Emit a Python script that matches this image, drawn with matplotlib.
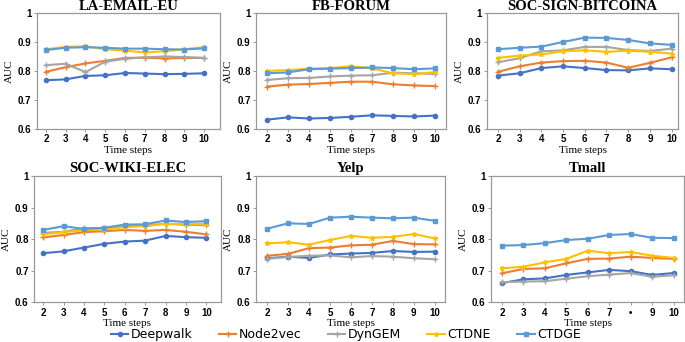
import numpy as np
import matplotlib.pyplot as plt
from matplotlib.lines import Line2D

# ==============================
# data
# ==============================
steps = [2, 3, 4, 5, 6, 7, 8, 9, 10]
methods = ["Deepwalk", "Node2vec", "DynGEM", "CTDNE", "CTDGE"]
titles = ["LA-EMAIL-EU", "FB-FORUM", "SOC-SIGN-BITCOINA",
          "SOC-WIKI-ELEC", "Yelp", "Tmall"]

la_email = [
    [0.768, 0.771, 0.783, 0.785, 0.793, 0.791, 0.789, 0.790, 0.792],
    [0.797, 0.813, 0.826, 0.835, 0.845, 0.846, 0.843, 0.845, 0.845],
    [0.820, 0.825, 0.796, 0.832, 0.842, 0.847, 0.850, 0.848, 0.845],
    [0.875, 0.883, 0.885, 0.875, 0.870, 0.864, 0.868, 0.875, 0.882],
    [0.872, 0.880, 0.882, 0.880, 0.877, 0.877, 0.875, 0.874, 0.878],
]
fb_forum = [
    [0.632, 0.640, 0.636, 0.638, 0.642, 0.647, 0.645, 0.643, 0.646],
    [0.746, 0.753, 0.755, 0.759, 0.763, 0.763, 0.754, 0.750, 0.748],
    [0.769, 0.775, 0.776, 0.781, 0.784, 0.785, 0.794, 0.792, 0.790],
    [0.800, 0.803, 0.808, 0.810, 0.816, 0.809, 0.792, 0.789, 0.796],
    [0.792, 0.795, 0.806, 0.808, 0.810, 0.812, 0.810, 0.806, 0.809],
]
bitcoin = [
    [0.784, 0.792, 0.810, 0.816, 0.810, 0.803, 0.802, 0.809, 0.806],
    [0.797, 0.816, 0.829, 0.834, 0.835, 0.829, 0.811, 0.828, 0.847],
    [0.830, 0.844, 0.868, 0.871, 0.883, 0.883, 0.872, 0.869, 0.877],
    [0.845, 0.853, 0.857, 0.868, 0.871, 0.866, 0.870, 0.866, 0.860],
    [0.875, 0.880, 0.884, 0.900, 0.915, 0.914, 0.907, 0.895, 0.890],
]
wiki_elec = [
    [0.755, 0.761, 0.773, 0.785, 0.792, 0.795, 0.810, 0.806, 0.804],
    [0.805, 0.813, 0.822, 0.825, 0.829, 0.826, 0.829, 0.823, 0.815],
    [0.820, 0.823, 0.835, 0.835, 0.841, 0.842, 0.849, 0.845, 0.844],
    [0.815, 0.822, 0.828, 0.830, 0.838, 0.841, 0.849, 0.847, 0.849],
    [0.829, 0.841, 0.832, 0.836, 0.846, 0.847, 0.859, 0.854, 0.857],
]
yelp = [
    [0.739, 0.744, 0.740, 0.751, 0.754, 0.756, 0.762, 0.759, 0.760],
    [0.747, 0.753, 0.771, 0.773, 0.780, 0.782, 0.794, 0.784, 0.783],
    [0.737, 0.743, 0.747, 0.748, 0.742, 0.746, 0.744, 0.739, 0.736],
    [0.786, 0.790, 0.782, 0.797, 0.810, 0.804, 0.807, 0.816, 0.802],
    [0.833, 0.850, 0.848, 0.868, 0.871, 0.868, 0.866, 0.868, 0.858],
]
tmall = [
    [0.660, 0.672, 0.675, 0.686, 0.694, 0.702, 0.698, 0.686, 0.692],
    [0.691, 0.705, 0.707, 0.723, 0.737, 0.738, 0.744, 0.740, 0.737],
    [0.663, 0.665, 0.666, 0.674, 0.682, 0.687, 0.692, 0.680, 0.685],
    [0.707, 0.712, 0.726, 0.737, 0.763, 0.755, 0.759, 0.747, 0.740],
    [0.779, 0.781, 0.787, 0.797, 0.801, 0.813, 0.816, 0.804, 0.803],
]
datasets = [la_email, fb_forum, bitcoin, wiki_elec, yelp, tmall]

yticks = [0.6, 0.7, 0.8, 0.9, 1.0]
ytick_labels = ["0.6", "0.7", "0.8", "0.9", "1"]
tmall_xlabels = ["2", "3", "4", "5", "6", "7", "•", "9", "10"]

# ==============================
# style
# ==============================
colors = ["#4472C4", "#ED7D31", "#A5A5A5", "#FFC000", "#5B9BD5"]
markers = ["o", "+", "+", "*", "s"]
msizes = [3, 4, 4, 3.5, 3.5]

# axes boxes in figure fraction [left, bottom, width, height]
boxes = [
    [0.054, 0.623, 0.267, 0.339],
    [0.374, 0.623, 0.277, 0.339],
    [0.711, 0.623, 0.279, 0.339],
    [0.050, 0.117, 0.272, 0.368],
    [0.374, 0.117, 0.276, 0.368],
    [0.717, 0.117, 0.282, 0.368],
]
xlims = [(1.55, 10.8), (1.48, 10.52), (1.5, 10.3),
         (1.56, 10.7), (1.48, 10.5), (1.5, 10.5)]

serif = "Liberation Serif"
sans = "Liberation Sans"

fig = plt.figure(figsize=(6.85, 3.42), dpi=100)

for i, data in enumerate(datasets):
    ax = fig.add_axes(boxes[i])
    for k in range(len(methods)):
        ax.plot(steps, data[k], color=colors[k], marker=markers[k],
                markersize=msizes[k], linewidth=1.5, markeredgewidth=1.0)
    ax.set_xlim(*xlims[i])
    ax.set_ylim(0.6, 1.0)
    ax.set_yticks(yticks)
    ax.set_yticklabels(ytick_labels, fontfamily=sans, fontsize=7, fontweight="bold")
    ax.set_xticks(steps)
    if i == 5:
        ax.set_xticklabels(tmall_xlabels, fontfamily=sans, fontsize=7, fontweight="bold")
    else:
        ax.set_xticklabels([str(s) for s in steps], fontfamily=sans, fontsize=7, fontweight="bold")
    ax.tick_params(length=2, width=0.6, color="#888888", pad=2)
    for sp in ax.spines.values():
        sp.set_color("#999999")
        sp.set_linewidth(0.9)
    ax.set_title(titles[i], fontfamily=serif, fontsize=10.5, fontweight="bold",
                 pad=1.5 if i < 3 else 3)
    ax.set_xlabel("Time steps", fontfamily=serif, fontsize=8, labelpad=1)
    ax.set_ylabel("AUC", fontfamily=serif, fontsize=8, labelpad=3)

# legend at the bottom
handles = [Line2D([0], [0], color=colors[k], marker=markers[k], markersize=msizes[k],
                  linewidth=1.5) for k in range(len(methods))]
fig.legend(handles, methods, loc="center", bbox_to_anchor=(0.505, 0.022), ncol=5,
           frameon=False, prop={"family": "DejaVu Sans", "size": 9},
           handlelength=1.4, columnspacing=2.1, handletextpad=0.2)

fig.savefig("out.png", dpi=100)
